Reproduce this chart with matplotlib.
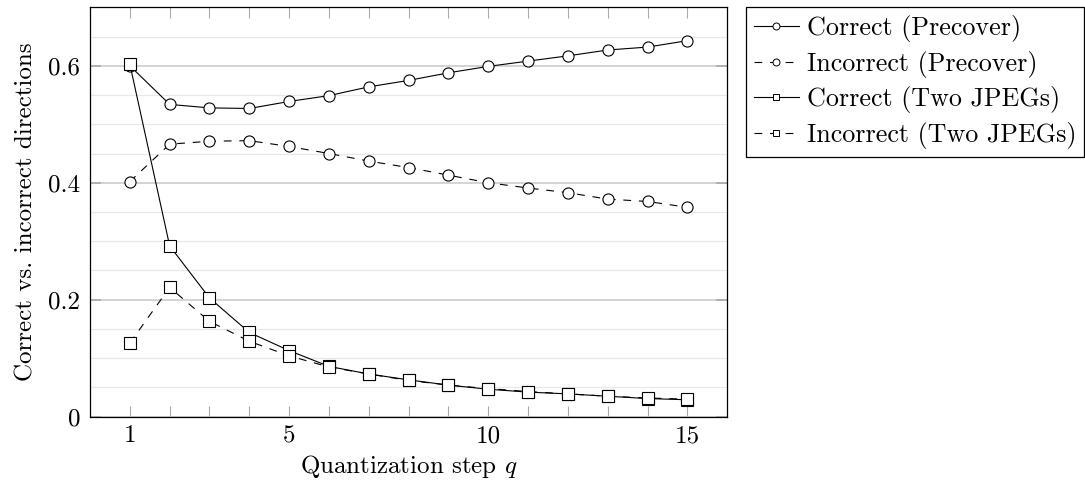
import matplotlib
matplotlib.use("Agg")
import matplotlib.pyplot as plt
from matplotlib.lines import Line2D
import numpy as np

# ---- data ----
q = list(range(1, 16))
correct_precover = [0.600, 0.534, 0.528, 0.527, 0.539, 0.549, 0.564, 0.575, 0.588,
                    0.599, 0.608, 0.617, 0.627, 0.632, 0.643]
incorrect_precover = [0.402, 0.466, 0.471, 0.472, 0.462, 0.450, 0.437, 0.426, 0.413,
                      0.400, 0.391, 0.383, 0.372, 0.368, 0.358]
correct_two_jpegs = [0.603, 0.292, 0.203, 0.144, 0.113, 0.086, 0.073, 0.063, 0.054,
                     0.047, 0.042, 0.039, 0.035, 0.031, 0.029]
incorrect_two_jpegs = [0.126, 0.221, 0.163, 0.129, 0.104, 0.085, 0.073, 0.062, 0.054,
                       0.048, 0.043, 0.039, 0.035, 0.032, 0.030]
series_labels = ["Correct (Precover)", "Incorrect (Precover)",
                 "Correct (Two JPEGs)", "Incorrect (Two JPEGs)"]
x_ticklabels = ["1", "5", "10", "15"]
y_ticklabels = ["0", "0.2", "0.4", "0.6"]

plt.rcParams['font.family'] = ['cmr10', 'DejaVu Serif']
plt.rcParams['mathtext.fontset'] = 'cm'
plt.rcParams['axes.formatter.use_mathtext'] = True

FS = 18
W, H = 1085, 484
fig = plt.figure(figsize=(W / 100, H / 100), dpi=100)
ax = fig.add_axes([90 / W, 1 - 416.7 / H, (727.3 - 90) / W, (416.7 - 7.3) / H])

lw = 0.8
ms = 8
dash = (7, 7)
common = dict(color='black', lw=lw, mfc='white', mec='black', mew=0.8, ms=ms, zorder=3)
ax.plot(q, correct_precover, marker='o', ls='-', **common)
ax.plot(q, incorrect_precover, marker='o', ls=(0, dash), **common)
ax.plot(q, correct_two_jpegs, marker='s', ls='-', **common)
ax.plot(q, incorrect_two_jpegs, marker='s', ls=(0, dash), **common)

ax.set_xlim(0, 16)
ax.set_ylim(0, 0.7)

# x ticks: every integer, labels at 1,5,10,15
ax.set_xticks(q)
ax.set_xticklabels([s if s in x_ticklabels else "" for s in map(str, q)])
ax.tick_params(axis='x', which='major', direction='in', length=8, width=0.8,
               color='#aaaaaa', top=True, labelsize=FS, pad=6)

yt = [0, 0.2, 0.4, 0.6]
ax.set_yticks(yt)
ax.set_yticklabels(y_ticklabels)
ax.set_yticks(np.arange(0.05, 0.7, 0.05), minor=True)
ax.tick_params(axis='y', which='major', direction='in', length=8, width=1.2,
               color='#aaaaaa', right=True, labelsize=FS, pad=7)
ax.tick_params(axis='y', which='minor', length=0)
ax.grid(axis='y', which='major', color='#cccccc', lw=1.2, zorder=0)
ax.grid(axis='y', which='minor', color='#e8e8e8', lw=0.9, zorder=0)
ax.set_axisbelow(True)

for s in ax.spines.values():
    s.set_linewidth(0.9)

ax.set_xlabel("Quantization step $q$", fontsize=FS, labelpad=4)
ax.set_ylabel("Correct vs. incorrect directions", fontsize=FS, labelpad=8)

hms = 5
ldash = (0, (7, 7))
handles = [
    Line2D([], [], color='black', lw=lw, ls='-', marker='o', mfc='white', mec='black', mew=0.7, ms=hms),
    Line2D([], [], color='black', lw=lw, ls=ldash, marker='o', mfc='white', mec='black', mew=0.7, ms=hms),
    Line2D([], [], color='black', lw=lw, ls='-', marker='s', mfc='white', mec='black', mew=0.7, ms=hms),
    Line2D([], [], color='black', lw=lw, ls=ldash, marker='s', mfc='white', mec='black', mew=0.7, ms=hms),
]

# legend box target (pixels): left 746, top 7.3, right 1084, bottom 156.7
L_LEFT, L_TOP, L_W, L_H = 746, 7.3, 338, 149.4
HANDLE_PX = 45.0


def make_legend(fs, ls):
    px = fs * 100 / 72
    return fig.legend(handles, series_labels, loc='upper left',
                      bbox_to_anchor=(L_LEFT / W, 1 - L_TOP / H), fontsize=fs,
                      frameon=True, fancybox=False, edgecolor='black', framealpha=1,
                      handlelength=HANDLE_PX / px, handletextpad=0.3, labelspacing=ls,
                      borderpad=0.3, borderaxespad=0)


lfs, lsp = FS, 0.2
leg = make_legend(lfs, lsp)
for _ in range(4):
    fig.canvas.draw()
    bb = leg.get_window_extent(fig.canvas.get_renderer())
    px = lfs * 100 / 72
    fixed = HANDLE_PX
    lfs = lfs * (L_W - fixed) / (bb.width - fixed)
    lsp = lsp + (L_H - bb.height) / (3 * px)
    leg.remove()
    leg = make_legend(lfs, lsp)
leg.get_frame().set_linewidth(0.9)

fig.savefig("out.png", dpi=100)
